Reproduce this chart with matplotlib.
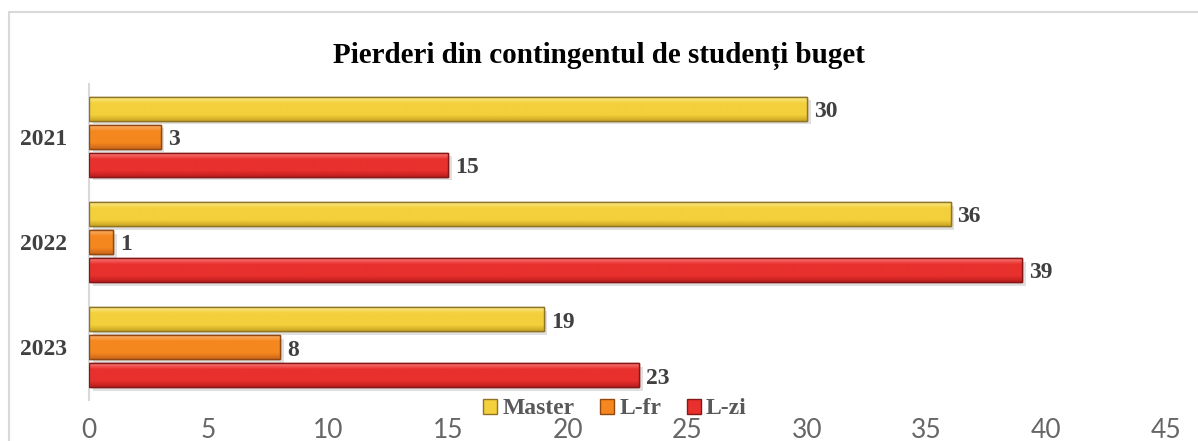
import numpy as np
import matplotlib.pyplot as plt
from matplotlib.patches import Patch, Rectangle
from matplotlib.colors import LinearSegmentedColormap

years = ['2021', '2022', '2023']
series = ['Master', 'L-fr', 'L-zi']
master = [30, 36, 19]
l_fr = [3, 1, 8]
l_zi = [15, 39, 23]

# base, light, dark, edge
palette = {
    'Master': ('#F3D03C', '#FCE98A', '#C9A422', '#8E7424'),
    'L-fr':   ('#F5871F', '#FBB06A', '#CC661A', '#92480F'),
    'L-zi':   ('#E8302D', '#F77C79', '#B91E1E', '#861717'),
}

serif = ['Liberation Serif', 'DejaVu Serif']
txt_grey = '#404040'

fig = plt.figure(figsize=(11.98, 4.41), dpi=100)
ax = fig.add_axes([89 / 1198, 1 - 400 / 441, (1166 - 89) / 1198, 316 / 441])

# chart frame
fig.patches.append(Rectangle((9 / 1198, -0.1), 1.2, 1 - 12 / 441 + 0.1,
                             transform=fig.transFigure, fill=False,
                             edgecolor='#D9D9D9', linewidth=1.5))

y = np.arange(len(years))
step = 0.265
height = 0.227
grad = np.linspace(0, 1, 64).reshape(-1, 1)

for i, (name, vals) in enumerate(zip(series, [master, l_fr, l_zi])):
    base, light, dark, edge = palette[name]
    cmap = LinearSegmentedColormap.from_list(name, [light, base, base, base, dark])
    pos = y + (i - 1) * step
    # soft shadow
    ax.barh(pos + 0.035, vals, height=height, left=0.15, color='#000000',
            alpha=0.12, linewidth=0, zorder=1)
    bars = ax.barh(pos, vals, height=height, color=base, edgecolor=edge,
                   linewidth=1.0, zorder=2)
    for b, v in zip(bars, vals):
        x0, y0 = b.get_x(), b.get_y()
        w, h = b.get_width(), b.get_height()
        im = ax.imshow(grad, cmap=cmap, aspect='auto', origin='upper',
                       extent=(x0, x0 + w, y0 + h, y0), zorder=2.5)
        im.set_clip_path(b)
        ax.annotate(str(v), (x0 + w, y0 + h / 2), xytext=(5, -2),
                    textcoords='offset points', va='center', ha='left',
                    fontsize=17, fontweight='bold', family=serif,
                    color=txt_grey)
    # redraw edges over the gradient
    for b in bars:
        ax.add_patch(Rectangle((b.get_x(), b.get_y()), b.get_width(),
                               b.get_height(), fill=False, edgecolor=edge,
                               linewidth=1.0, zorder=3))

ax.set_xlim(0, 45)
ax.set_ylim(2.5, -0.5)
ax.set_xticks(np.arange(0, 46, 5))
ax.set_yticks(y)
ax.set_yticklabels(years, fontsize=17, fontweight='bold', family=serif,
                   color=txt_grey)
ax.tick_params(axis='y', length=0, pad=16)
ax.tick_params(axis='x', length=0, pad=13, labelsize=19, labelcolor='#666666')
for lab in ax.get_xticklabels():
    lab.set_family(['Lato', 'DejaVu Sans'])
    lab.set_fontweight('normal')

for s in ['top', 'right', 'bottom']:
    ax.spines[s].set_visible(False)
ax.spines['left'].set_color('#D9D9D9')
ax.spines['left'].set_linewidth(1.5)

fig.text(0.5, 1 - 56 / 441, 'Pierderi din contingentul de studenți buget',
         ha='center', va='center', fontsize=21, fontweight='bold',
         family=serif, color='#000000')

handles = [Patch(facecolor=palette[n][0], edgecolor=palette[n][3]) for n in series]
leg = fig.legend(handles, series, loc='center', ncol=3,
                 bbox_to_anchor=(615 / 1198, 1 - 409 / 441), frameon=False,
                 prop={'family': serif, 'weight': 'bold', 'size': 17},
                 handlelength=0.6, handleheight=0.6, handletextpad=0.2,
                 columnspacing=1.1, borderpad=0)
for t in leg.get_texts():
    t.set_color('#595959')

fig.savefig('out.png', dpi=100)
